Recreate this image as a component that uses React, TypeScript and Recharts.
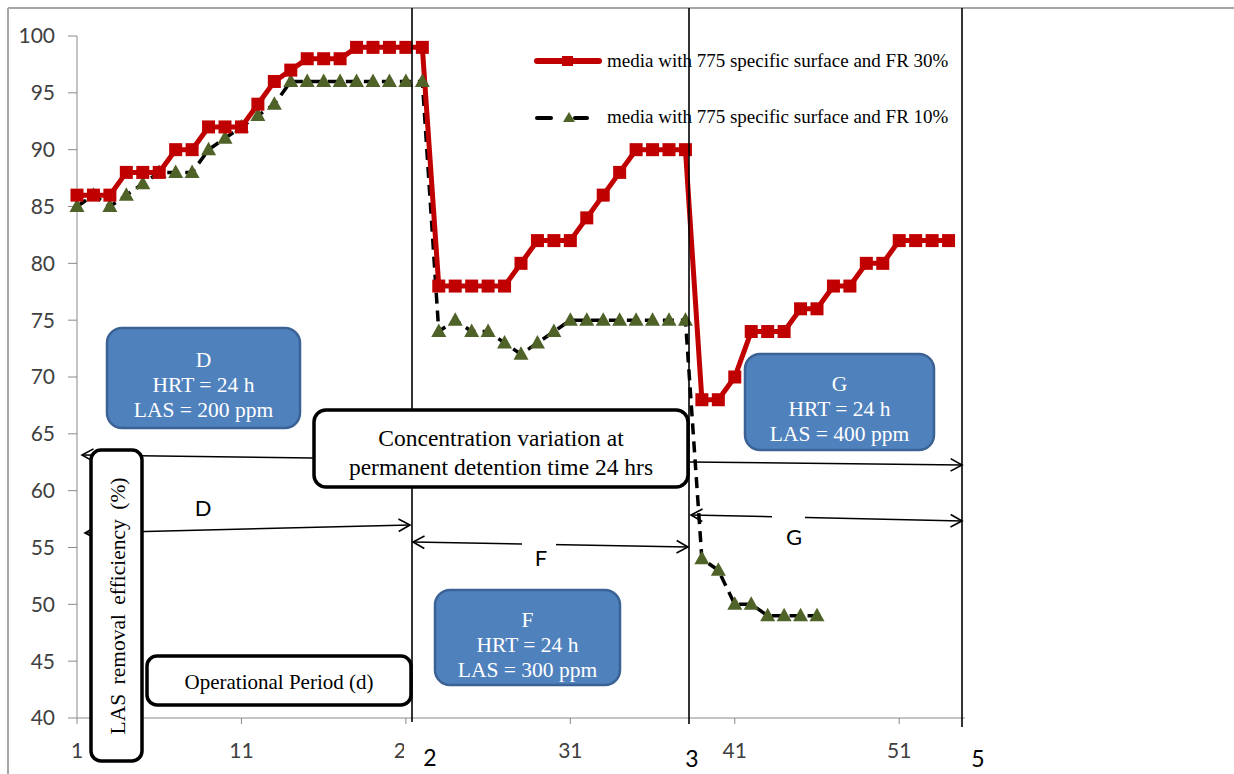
// LAS removal efficiency over the operational period, two media (FR 30% / FR 10%),
// with the Excel-style drawn annotations (phase lines, arrows, call-out boxes) on top.

import React from "react";
import { Legend, Line, LineChart, XAxis, YAxis } from "recharts";

const days = [
  1, 2, 3, 4, 5, 6, 7, 8, 9, 10, 11, 12, 13, 14, 15, 16, 17, 18, 19, 20, 21, 22,
  23, 24, 25, 26, 27, 28, 29, 30, 31, 32, 33, 34, 35, 36, 37, 38,
  39, 40, 41, 42, 43, 44, 45, 46, 47, 48, 49, 50, 51, 52, 53, 54,
];

// media with 775 specific surface and FR 30%
const fr30 = [
  86, 86, 86, 88, 88, 88, 90, 90, 92, 92, 92, 94, 96, 97, 98, 98, 98, 99, 99, 99, 99, 99,
  78, 78, 78, 78, 78, 80, 82, 82, 82, 84, 86, 88, 90, 90, 90, 90,
  68, 68, 70, 74, 74, 74, 76, 76, 78, 78, 80, 80, 82, 82, 82, 82,
];

// media with 775 specific surface and FR 10% (stops at day 46)
const fr10 = [
  85, 86, 85, 86, 87, 88, 88, 88, 90, 91, 92, 93, 94, 96, 96, 96, 96, 96, 96, 96, 96, 96,
  74, 75, 74, 74, 73, 72, 73, 74, 75, 75, 75, 75, 75, 75, 75, 75,
  54, 53, 50, 50, 49, 49, 49, 49,
];

const seriesNames = [
  "media with 775 specific surface and FR 30%",
  "media with 775 specific surface and FR 10%",
];

const xTicks = [1, 11, 21, 31, 41, 51];
const yTicks = [40, 45, 50, 55, 60, 65, 70, 75, 80, 85, 90, 95, 100];

const phaseCards = [
  { name: "D", hrt: "HRT = 24 h", las: "LAS = 200 ppm" },
  { name: "F", hrt: "HRT = 24 h", las: "LAS = 300 ppm" },
  { name: "G", hrt: "HRT = 24 h", las: "LAS = 400 ppm" },
];

const data = days.map((d, i) => ({
  day: d,
  fr30: fr30[i],
  fr10: i < fr10.length ? fr10[i] : null,
}));

const RED = "#C00000";
const OLIVE = "#4F6228";
const BLUE = "#4F81BD";
const BLUE_EDGE = "#3B6294";
const AXIS = "#898989";
const SERIF = "'Liberation Serif', 'Times New Roman', serif";
const SANS = "Lato, 'Open Sans', sans-serif";

function SquareDot(props: any) {
  const { cx, cy, index } = props;
  if (cx == null || cy == null) return <g key={`s${index}`} />;
  return <rect key={`s${index}`} x={cx - 6.5} y={cy - 6.5} width={13} height={13} fill={RED} />;
}

function TriangleDot(props: any) {
  const { cx, cy, index, value } = props;
  if (cx == null || cy == null || value == null) return <g key={`t${index}`} />;
  const d = `M ${cx} ${cy - 8} L ${cx - 7.5} ${cy + 5.5} L ${cx + 7.5} ${cy + 5.5} Z`;
  return <path key={`t${index}`} d={d} fill={OLIVE} />;
}

function LegendBox() {
  return (
    <div style={{ fontFamily: SERIF, fontSize: 19, color: "#000", width: 450, whiteSpace: "nowrap" }}>
      <div style={{ display: "flex", alignItems: "center", height: 24 }}>
        <svg width={74} height={20}>
          <line x1={4} y1={10} x2={66} y2={10} stroke={RED} strokeWidth={6} strokeLinecap="round" />
          <rect x={29} y={5} width={11} height={10} fill={RED} />
        </svg>
        <span>{seriesNames[0]}</span>
      </div>
      <div style={{ display: "flex", alignItems: "center", height: 24, marginTop: 32 }}>
        <svg width={74} height={20}>
          <line x1={4} y1={11} x2={18} y2={11} stroke="#000" strokeWidth={4} strokeLinecap="round" />
          <line x1={42} y1={11} x2={54} y2={11} stroke="#000" strokeWidth={4} strokeLinecap="round" />
          <path d="M 36 5 L 30 15 L 42 15 Z" fill={OLIVE} />
        </svg>
        <span>{seriesNames[1]}</span>
      </div>
    </div>
  );
}

function Arrow({
  x1, y1, x2, y2, both = false,
}: { x1: number; y1: number; x2: number; y2: number; both?: boolean }) {
  const head = (tx: number, ty: number, fx: number, fy: number) => {
    const a = Math.atan2(ty - fy, tx - fx);
    const l = 13;
    const w = 0.5;
    const p1 = `${tx - l * Math.cos(a - w)},${ty - l * Math.sin(a - w)}`;
    const p2 = `${tx - l * Math.cos(a + w)},${ty - l * Math.sin(a + w)}`;
    return <polyline points={`${p1} ${tx},${ty} ${p2}`} fill="none" stroke="#000" strokeWidth={1.6} />;
  };
  return (
    <g>
      <line x1={x1} y1={y1} x2={x2} y2={y2} stroke="#000" strokeWidth={1.5} />
      {head(x2, y2, x1, y1)}
      {both && head(x1, y1, x2, y2)}
    </g>
  );
}

function BlueCard({ x, y, w, h, card }: { x: number; y: number; w: number; h: number; card: typeof phaseCards[number] }) {
  const cx = x + w / 2;
  const top = y + h / 2 - 18;
  return (
    <g>
      <rect x={x} y={y} width={w} height={h} rx={15} fill={BLUE} stroke={BLUE_EDGE} strokeWidth={2.5} />
      <text x={cx} y={top} textAnchor="middle" dominantBaseline="central" fill="#fff" fontFamily={SERIF} fontSize={21.5}>
        {card.name}
      </text>
      <text x={cx} y={top + 25} textAnchor="middle" dominantBaseline="central" fill="#fff" fontFamily={SERIF} fontSize={21.5}>
        {card.hrt}
      </text>
      <text x={cx} y={top + 50} textAnchor="middle" dominantBaseline="central" fill="#fff" fontFamily={SERIF} fontSize={21.5}>
        {card.las}
      </text>
    </g>
  );
}

function Overlay() {
  return (
    <svg
      width={1234}
      height={774}
      style={{ position: "absolute", left: 0, top: 0, pointerEvents: "none" }}
    >
      {/* chart area frame (cropped) */}
      <line x1={8} y1={8} x2={1234} y2={8} stroke="#A6A6A6" strokeWidth={2} />
      <line x1={8} y1={8} x2={8} y2={774} stroke="#A6A6A6" strokeWidth={2} />

      {/* phase boundary lines */}
      <line x1={412} y1={8} x2={412} y2={722} stroke="#000" strokeWidth={1.6} />
      <line x1={689} y1={8} x2={689} y2={724} stroke="#000" strokeWidth={1.6} />
      <line x1={962} y1={8} x2={962} y2={727} stroke="#000" strokeWidth={1.6} />

      {/* span arrows */}
      <Arrow x1={313} y1={458} x2={82} y2={455} />
      <Arrow x1={690} y1={462} x2={962} y2={465} />
      <Arrow x1={85} y1={533} x2={410} y2={525} both />
      <Arrow x1={413} y1={542} x2={688} y2={547} both />
      <Arrow x1={691} y1={515} x2={962} y2={521} both />

      <text x={203} y={507} textAnchor="middle" dominantBaseline="central" fontFamily={SANS} fontSize={22} fill="#000">D</text>
      <rect x={522} y={536} width={34} height={36} fill="#fff" />
      <text x={541} y={557} textAnchor="middle" dominantBaseline="central" fontFamily={SANS} fontSize={22} fill="#000">F</text>
      <rect x={772} y={510} width={33} height={40} fill="#fff" />
      <text x={794} y={536} textAnchor="middle" dominantBaseline="central" fontFamily={SANS} fontSize={22} fill="#000">G</text>

      {/* phase cards */}
      <BlueCard x={107} y={328} w={193} h={100} card={phaseCards[0]} />
      <BlueCard x={435} y={590} w={185} h={95} card={phaseCards[1]} />
      <BlueCard x={745} y={354} w={189} h={96} card={phaseCards[2]} />

      {/* concentration call-out */}
      <rect x={314} y={410} width={374} height={77} rx={12} fill="#fff" stroke="#000" strokeWidth={3.5} />
      <text x={501} y={438} textAnchor="middle" dominantBaseline="central" fontFamily={SERIF} fontSize={23.5} fill="#000">
        Concentration variation at
      </text>
      <text x={501} y={467} textAnchor="middle" dominantBaseline="central" fontFamily={SERIF} fontSize={23.5} fill="#000">
        permanent detention time 24 hrs
      </text>

      {/* axis titles as boxed text */}
      <rect x={91} y={450} width={51} height={311} rx={10} fill="#fff" stroke="#000" strokeWidth={3.5} />
      <text
        x={118}
        y={606}
        transform="rotate(-90 118 606)"
        textAnchor="middle"
        dominantBaseline="central"
        fontFamily={SERIF}
        fontSize={21.5}
        fill="#000"
        style={{ wordSpacing: 4 }}
      >
        LAS removal efficiency (%)
      </text>
      <rect x={147} y={656} width={264} height={49} rx={10} fill="#fff" stroke="#000" strokeWidth={3.5} />
      <text x={279} y={682} textAnchor="middle" dominantBaseline="central" fontFamily={SERIF} fontSize={21} fill="#000">
        Operational Period (d)
      </text>

      {/* boundary day labels */}
      <rect x={404} y={733} width={46} height={41} fill="#fff" />
      <text x={430} y={757} textAnchor="middle" dominantBaseline="central" fontFamily={SANS} fontSize={23} fill="#000">2</text>
      <text x={692} y={758} textAnchor="middle" dominantBaseline="central" fontFamily={SANS} fontSize={23} fill="#000">3</text>
      <text x={978} y={758} textAnchor="middle" dominantBaseline="central" fontFamily={SANS} fontSize={23} fill="#000">5</text>
    </svg>
  );
}

export default function App() {
  return (
    <div style={{ position: "absolute", left: 0, top: 0, width: 1234, height: 774, background: "#fff" }}>
      <LineChart
        width={1234}
        height={774}
        data={data}
        margin={{ top: 36, right: 269, bottom: 26, left: 17 }}
      >
        <XAxis
          dataKey="day"
          type="number"
          domain={[1, 55]}
          ticks={xTicks}
          interval={0}
          height={30}
          stroke={AXIS}
          tickSize={6}
          tickMargin={19}
          tick={{ fill: "#404040", fontSize: 21, fontFamily: SANS }}
        />
        <YAxis
          type="number"
          domain={[40, 100]}
          ticks={yTicks}
          interval={0}
          width={60}
          stroke={AXIS}
          tickSize={9}
          tickMargin={13}
          tick={{ fill: "#404040", fontSize: 21, fontFamily: SANS }}
        />
        <Legend
          layout="vertical"
          align="center"
          verticalAlign="middle"
          content={() => <LegendBox />}
          wrapperStyle={{ left: 533, top: 49, width: 450 }}
        />
        <Line
          dataKey="fr10"
          name={seriesNames[1]}
          stroke="#000"
          strokeWidth={3.5}
          strokeDasharray="11 7"
          dot={TriangleDot}
          activeDot={false}
          isAnimationActive={false}
        />
        <Line
          dataKey="fr30"
          name={seriesNames[0]}
          stroke={RED}
          strokeWidth={5}
          dot={SquareDot}
          activeDot={false}
          isAnimationActive={false}
        />
      </LineChart>
      <Overlay />
    </div>
  );
}
